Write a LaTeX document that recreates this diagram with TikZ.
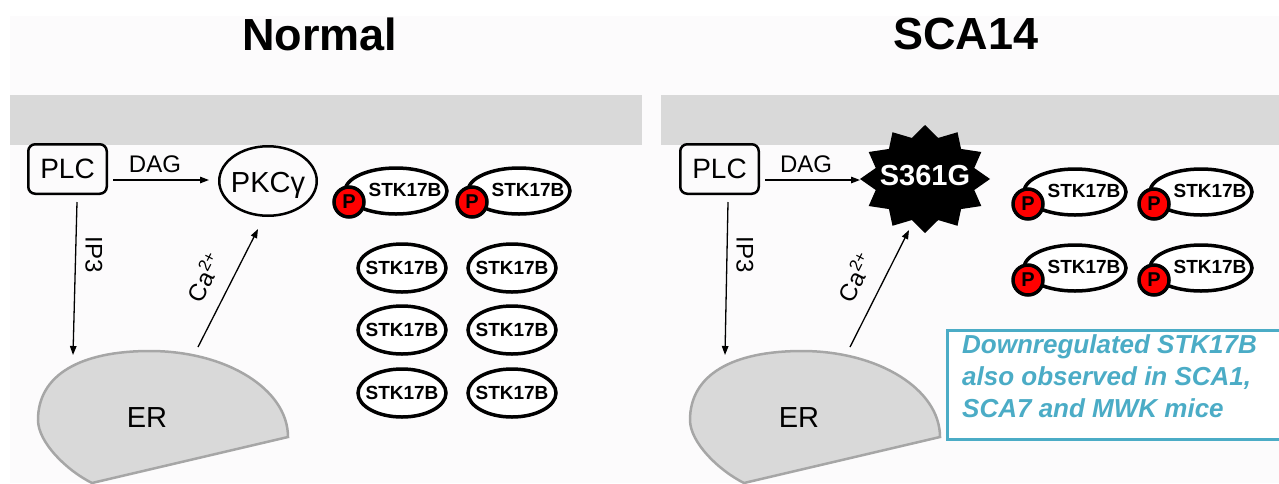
\documentclass[tikz,border=0pt]{standalone}
\usepackage{fontspec}
\setmainfont{Liberation Sans}
\usetikzlibrary{shapes.geometric,arrows.meta,calc}

\definecolor{panelbg}{RGB}{252,251,252}
\definecolor{membrane}{RGB}{217,217,217}
\definecolor{erfill}{RGB}{217,217,217}
\definecolor{erline}{RGB}{166,166,166}
\definecolor{notecol}{RGB}{75,172,198}
\definecolor{phosred}{RGB}{255,0,0}

% endoplasmic reticulum outline, in pixel units
\newcommand\erOutline{%
  (288,437) .. controls (288,389) and (226,351) .. (150,351)
  .. controls (80,351) and (38,375) .. (38,420)
  .. controls (38,442) and (66,470) .. (92,483) -- cycle}

\begin{document}
\begin{tikzpicture}[x=1pt,y=-1pt,
  titletext/.style={font=\bfseries\fontsize{45}{45}\selectfont, inner sep=0pt},
  plcbox/.style={draw, line width=2.5pt, rounded corners=7pt, minimum width=78.5pt,
    minimum height=49.5pt, inner sep=0pt, font=\fontsize{28}{28}\selectfont},
  bigtext/.style={font=\fontsize{29}{29}\selectfont, inner sep=0pt},
  midtext/.style={font=\fontsize{24}{24}\selectfont, inner sep=0pt},
  pkcring/.style={ellipse, draw, line width=2.5pt, minimum width=97.5pt,
    minimum height=69.5pt, inner sep=0pt},
  stkring/.style={ellipse, draw, line width=3.5pt, fill=white, minimum width=88pt,
    minimum height=48pt, inner sep=0pt},
  phring/.style={ellipse, draw, line width=3.5pt, fill=white, minimum width=102pt,
    minimum height=46pt, inner sep=0pt},
  stktext/.style={font=\bfseries\fontsize{19}{19}\selectfont, inner sep=0pt},
  pcirc/.style={circle, draw, line width=3.5pt, fill=phosred, minimum size=30pt,
    inner sep=0pt, font=\bfseries\fontsize{20}{20}\selectfont},
  arr/.style={-{Triangle[length=9pt,width=6.5pt]}, line width=1.3pt},
  erbody/.style={fill=erfill, draw=erline, line width=2.5pt},
  notebox/.style={draw=notecol, line width=3pt, fill=white, inner sep=0pt, outer sep=0pt},
  notetext/.style={text=notecol, align=left, inner sep=0pt,
    font=\bfseries\itshape\fontsize{26}{32}\selectfont}
]
\useasboundingbox (0,0) rectangle (1279,483);
\clip (0,0) rectangle (1279,483);

% backdrop and membranes
\fill[white] (0,0) rectangle (1279,483);
\fill[panelbg] (10,16) rectangle (1279,483);
\fill[membrane] (10,95) rectangle (642,145);
\fill[membrane] (661,95) rectangle (1279,145);

% titles
\node[titletext] (titleN) at (320,34) {Normal};
\node[titletext] (titleS) at (966,34) {SCA14};

% ---------- Normal ----------
\filldraw[erbody] \erOutline;
\node[bigtext, anchor=base] (erL) at (147,427) {ER};
\coordinate (ipL) at (73,355);
\coordinate (caL) at (198,347);

\node[plcbox] (plcL) at (67.5,169) {PLC};
\node[pkcring] (pkcL) at (268,181) {};
\node[bigtext, anchor=base] (pkcLt) at (268,192) {PKCγ};

\draw[arr] ($(plcL.east)+(5,11)$) -- ($(pkcL.west)+(-9,-1)$);
\node[midtext, anchor=base] (dagL) at (155,172) {DAG};
\draw[arr] ($(plcL.south)+(9.5,7)$) -- (ipL);
\node[midtext, rotate=-90] (ip3L) at (94,255) {IP3};
\draw[arr] (caL) -- ($(pkcL.south)+(-10,12)$);
\node[midtext, rotate=63] (caLt) at (204,277) {Ca\textsuperscript{2+}};

% phosphorylated STK17B
\foreach \n/\x in {a/396, b/519}{
  \node[phring] (ph\n) at (\x,191) {};
  \node[pcirc] (pc\n) at ($(ph\n)+(-47,11)$) {P};
  \node[stktext] at ($(ph\n)+(9,-1)$) {STK17B};
}
% unphosphorylated STK17B
\foreach \n/\x/\y in {c/402/268, d/512/268, e/402/330, f/512/330, g/402/393, h/512/393}{
  \node[stkring] (st\n) at (\x,\y) {};
  \node[stktext] at (st\n) {STK17B};
}

% ---------- SCA14 ----------
\begin{scope}[shift={(652,0)}]
  \filldraw[erbody] \erOutline;
\end{scope}
\node[bigtext, anchor=base] (erR) at (799,427) {ER};
\coordinate (ipR) at (725,355);
\coordinate (caR) at (850,347);

\node[plcbox] (plcR) at (719.5,169) {PLC};
\fill[black] plot[samples=25, domain=0:24, variable=\k]
  ({925+(mod(round(\k),2)==0 ? 65 : 51)*cos(90+\k*15)},
   {179-(mod(round(\k),2)==0 ? 54 : 42.5)*sin(90+\k*15)}) -- cycle;
\node[font=\bfseries\fontsize{29}{29}\selectfont, text=white, inner sep=0pt]
  (mut) at (925,176) {S361G};
\coordinate (mutC) at (925,179);

\draw[arr] ($(plcR.east)+(5,11)$) -- ($(mutC)+(-65,1)$);
\node[midtext, anchor=base] (dagR) at (806,172) {DAG};
\draw[arr] ($(plcR.south)+(8.5,7)$) -- (ipR);
\node[midtext, rotate=-90] (ip3R) at (745,255) {IP3};
\draw[arr] (caR) -- ($(mutC)+(-16,51)$);
\node[midtext, rotate=63] (caRt) at (855,277) {Ca\textsuperscript{2+}};

\foreach \n/\x/\y in {i/1075/192, j/1201/192, k/1075/268, l/1201/268}{
  \node[phring] (ph\n) at (\x,\y) {};
  \node[pcirc] (pc\n) at ($(ph\n)+(-47,12)$) {P};
  \node[stktext] at ($(ph\n)+(9,-1)$) {STK17B};
}

% note
\node[notebox, minimum width=343pt, minimum height=109pt, anchor=north west]
  (noteBox) at (947,330) {};
\node[notetext, anchor=north west] (noteTxt) at (962,334)
  {Downregulated STK17B\\also observed in SCA1,\\SCA7 and MWK mice};
\end{tikzpicture}
\end{document}
